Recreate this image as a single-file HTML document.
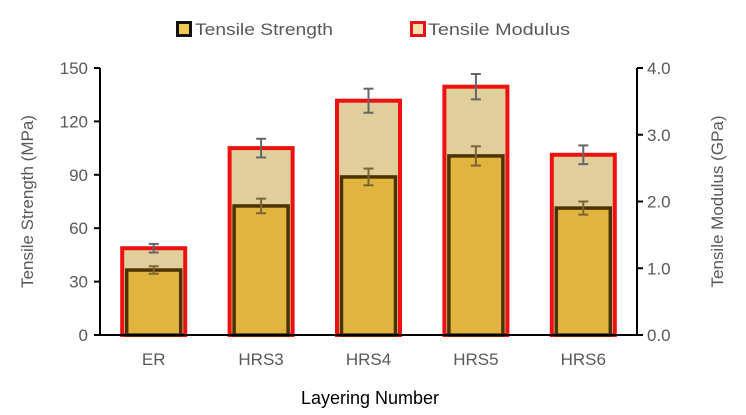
<!DOCTYPE html>
<html><head><meta charset="utf-8"><style>
html,body{margin:0;padding:0;background:#fff;}
svg{display:block;font-family:"Liberation Sans",Arial,sans-serif;}
</style></head><body>
<svg id="chart" width="746" height="415" viewBox="0 0 746 415" xmlns="http://www.w3.org/2000/svg">
<g id="legend">
  <g>
    <rect x="177.5" y="22.5" width="13" height="13" fill="#f2c94c" stroke="#111" stroke-width="3"/>
    <text x="195" y="35" font-size="17" fill="#595959" textLength="138" lengthAdjust="spacingAndGlyphs">Tensile Strength</text>
  </g>
  <g>
    <rect x="411.5" y="22.5" width="13" height="13" fill="#f7dfae" stroke="#e8101a" stroke-width="3"/>
    <text x="428" y="35" font-size="17" fill="#595959" textLength="142" lengthAdjust="spacingAndGlyphs">Tensile Modulus</text>
  </g>
</g>
<g id="plot"></g>
</svg>
<script>
const categories = ["ER","HRS3","HRS4","HRS5","HRS6"];
const strength = [36.5, 72.5, 88.8, 100.6, 71.3];
const strengthErr = [2.1, 4.1, 4.7, 5.4, 3.7];
const modulus = [1.30, 2.80, 3.51, 3.72, 2.70];
const modulusErr = [0.065, 0.14, 0.18, 0.19, 0.14];
const leftTicks = [0, 30, 60, 90, 120, 150];
const rightTicks = ["0.0","1.0","2.0","3.0","4.0"];

const NS = "http://www.w3.org/2000/svg";
const g = document.getElementById('plot');
const X0 = 100, X1 = 637, Y0 = 335, Y1 = 68;
const band = (X1 - X0) / categories.length;
const xc = i => X0 + band * (i + 0.5);
const yL = v => Y0 - (v / 150) * (Y0 - Y1);
const yR = v => Y0 - (v / 4) * (Y0 - Y1);
function mk(tag, attrs, parent) {
  const e = document.createElementNS(NS, tag);
  for (const k in attrs) e.setAttribute(k, attrs[k]);
  (parent || g).appendChild(e);
  return e;
}
function errBar(cx, yTop, yBot, color, name) {
  const eg = mk('g', {});
  
  
  mk('line', {x1: cx, x2: cx, y1: yTop, y2: yBot, stroke: color, 'stroke-width': 2}, eg);
  mk('line', {x1: cx - 5, x2: cx + 5, y1: yTop, y2: yTop, stroke: color, 'stroke-width': 2}, eg);
  mk('line', {x1: cx - 5, x2: cx + 5, y1: yBot, y2: yBot, stroke: color, 'stroke-width': 2}, eg);
}
categories.forEach((c, i) => {
  const cx = xc(i);
  const wM = 63, wS = 54;
  const mTop = yR(modulus[i]);
  const mb = mk('rect', {x: cx - wM / 2, y: mTop, width: wM, height: Y0 - mTop, fill: '#e0cf9b', stroke: '#ee1111', 'stroke-width': 4});
  
  
  const sTop = yL(strength[i]);
  const sb = mk('rect', {x: cx - wS / 2, y: sTop, width: wS, height: Y0 - sTop, fill: '#e0b43e', stroke: '#4a3300', 'stroke-width': 3.5});
  
  
  errBar(cx, yR(modulus[i] + modulusErr[i]), yR(modulus[i] - modulusErr[i]), '#666', 'modulus-error-' + c.toLowerCase());
  errBar(cx, yL(strength[i] + strengthErr[i]), yL(strength[i] - strengthErr[i]), '#7a6535', 'strength-error-' + c.toLowerCase());
  const t = mk('text', {x: cx, y: 365, 'font-size': 17, fill: '#595959', 'text-anchor': 'middle'});
  t.textContent = c;
  
  
});
// axes
const la = mk('line', {x1: X0, x2: X0, y1: Y1, y2: Y0, stroke: '#000', 'stroke-width': 2});


const ra = mk('line', {x1: X1, x2: X1, y1: Y1, y2: Y0, stroke: '#000', 'stroke-width': 2});


const xa = mk('line', {x1: X0 - 6, x2: X1 + 1, y1: Y0, y2: Y0, stroke: '#000', 'stroke-width': 2});


leftTicks.forEach(v => {
  const y = yL(v);
  mk('line', {x1: X0 - 6, x2: X0, y1: y, y2: y, stroke: '#000', 'stroke-width': 2});
  const t = mk('text', {x: X0 - 12, y: y + 6, 'font-size': 17, fill: '#595959', 'text-anchor': 'end'});
  t.textContent = v;
  
  
});
rightTicks.forEach((v, i) => {
  const y = yR(parseFloat(v));
  mk('line', {x1: X1, x2: X1 + 6, y1: y, y2: y, stroke: '#000', 'stroke-width': 2});
  const t = mk('text', {x: X1 + 10, y: y + 6, 'font-size': 17, fill: '#595959', 'text-anchor': 'start'});
  t.textContent = v;
  
  
});
const yt = mk('text', {x: 0, y: 0, 'font-size': 17, fill: '#595959', 'text-anchor': 'middle', transform: 'translate(33,' + ((Y0 + Y1) / 2) + ') rotate(-90)'});
yt.textContent = 'Tensile Strength (MPa)';


const yt2 = mk('text', {x: 0, y: 0, 'font-size': 17, fill: '#595959', 'text-anchor': 'middle', transform: 'translate(723,' + ((Y0 + Y1) / 2) + ') rotate(-90)'});
yt2.textContent = 'Tensile Modulus (GPa)';


const xt = mk('text', {x: 370, y: 404, 'font-size': 18, fill: '#000', 'text-anchor': 'middle'});
xt.textContent = 'Layering Number';


</script>
</body></html>
